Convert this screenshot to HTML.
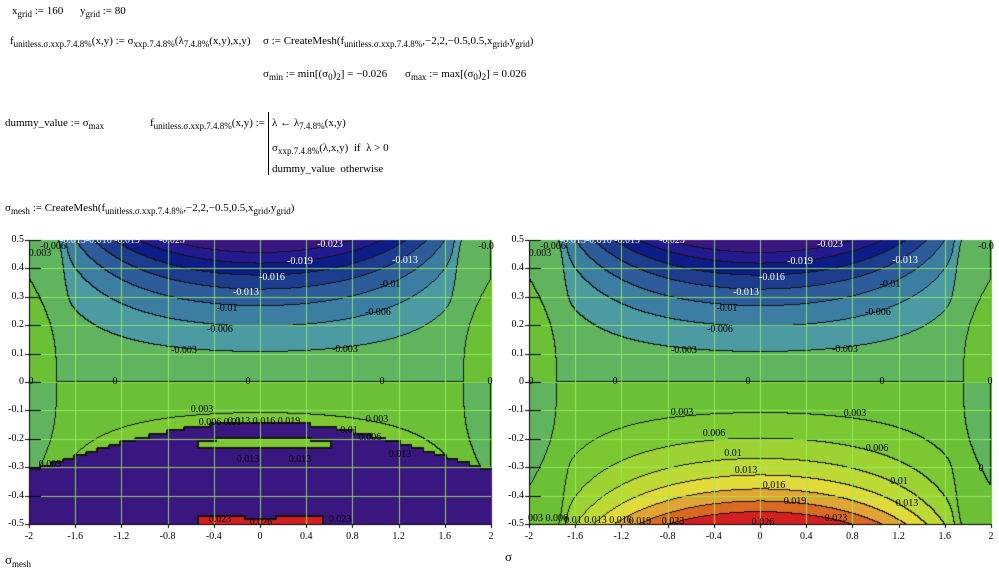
<!DOCTYPE html>
<html><head><meta charset="utf-8"><style>
body{margin:0;background:#fff;width:999px;height:575px;overflow:hidden;position:relative;font-family:"Liberation Serif",serif;font-size:11px;color:#000}
.t{position:absolute;white-space:nowrap;line-height:14px}
sub{font-size:9px;vertical-align:-3px;line-height:0}
canvas{position:absolute;top:0;left:0}
.l{position:absolute;font-size:10px;transform:translate(-50%,-50%);white-space:nowrap;line-height:10px}
.w{color:#fff}
.tk{position:absolute;font-size:10px;line-height:10px;white-space:nowrap}
.bar{position:absolute;left:268px;top:112px;width:1px;height:63px;background:#000}
</style></head><body>
<div class="t" style="left:12px;top:4px">x<sub>grid</sub> := 160</div>
<div class="t" style="left:80px;top:4px">y<sub>grid</sub> := 80</div>
<div class="t" style="left:10px;top:34px">f<sub>unitless.σ.xxp.7.4.8%</sub>(x,y) := σ<sub>xxp.7.4.8%</sub>(λ<sub>7.4.8%</sub>(x,y),x,y)</div>
<div class="t" style="left:263px;top:34px">σ := CreateMesh(f<sub>unitless.σ.xxp.7.4.8%</sub>,−2,2,−0.5,0.5,x<sub>grid</sub>,y<sub>grid</sub>)</div>
<div class="t" style="left:263px;top:67px">σ<sub>min</sub> := min[(σ<sub>0</sub>)<sub>2</sub>] = −0.026</div>
<div class="t" style="left:405px;top:67px">σ<sub>max</sub> := max[(σ<sub>0</sub>)<sub>2</sub>] = 0.026</div>
<div class="t" style="left:5px;top:116px">dummy_value := σ<sub>max</sub></div>
<div class="t" style="left:150px;top:116px">f<sub>unitless.σ.xxp.7.4.8%</sub>(x,y) :=</div>
<div class="bar"></div>
<div class="t" style="left:272px;top:116px">λ ← λ<sub>7.4.8%</sub>(x,y)</div>
<div class="t" style="left:272px;top:141px">σ<sub>xxp.7.4.8%</sub>(λ,x,y) &nbsp;if &nbsp;λ &gt; 0</div>
<div class="t" style="left:272px;top:162px">dummy_value &nbsp;otherwise</div>
<div class="t" style="left:5px;top:201px">σ<sub>mesh</sub> := CreateMesh(f<sub>unitless.σ.xxp.7.4.8%</sub>,−2,2,−0.5,0.5,x<sub>grid</sub>,y<sub>grid</sub>)</div>
<canvas id="c" width="999" height="575"></canvas>
<div class="t" style="left:5px;top:553px;font-size:13px">σ<sub>mesh</sub></div>
<div class="t" style="left:505px;top:550px;font-size:13px">σ</div>
<div id="lab"></div>
<script>
var cv=document.getElementById('c'),ctx=cv.getContext('2d');
var neg=['#3a1680','#221a8e','#0e1c88','#1e3c8e','#2e5c9a','#3c7ea2','#4c9aa2','#60b45e'];
var pos=['#6cc036','#7cc832','#9cd232','#bed834','#e2da38','#e2a432','#da6a22','#d42020'];
var cols=neg.concat(pos).map(function(h){return [parseInt(h.substr(1,2),16),parseInt(h.substr(3,2),16),parseInt(h.substr(5,2),16)]});
function sig(x,y){var ax=Math.abs(x);
 var s=1/(1+Math.exp(-(ax-1.7)/0.02));
 var R=s*(0.03+0.05*Math.max(0,ax-1.75));
 return -y*(1-x*x/4)*(0.029+0.1*y*y-R);}
function band(s){var b=Math.floor((s+0.026)/0.00325);if(b<0)b=0;if(b>15)b=15;return b;}
var W=462,H=284,Y0=240;
function mask(x,y){
 var qx=Math.round(x/0.025)*0.025,qy=Math.round(y/0.0125)*0.0125;
 var yb=-0.139-0.055*qx*qx+0.003*qx*qx*qx*qx;
 if(qy<yb){
  if(qy<-0.465&&qx>-0.55&&qx<0.55){ if(Math.abs(qx)<0.15&&qy>-0.478)return 0; return 15;}
  if(qy<-0.195&&qy>-0.23&&qx>-0.4&&qx<0.45)return 9;
  if(qy<-0.21&&qy>-0.235&&qx>-0.55&&qx<0.62)return 9;
  return 0;}
 return -1;}
function draw(ox,left){
 var img=ctx.createImageData(W+1,H+1),d=img.data;
 var B=[];
 for(var j=0;j<=H;j++){for(var i=0;i<=W;i++){var x=-2+4*i/W,y=0.5-j/H;var b=band(sig(x,y));var m=left?mask(x,y):-1;B.push(m>=0?m+100:b);}}
 for(var j=0;j<=H;j++){for(var i=0;i<=W;i++){var k=j*(W+1)+i,b=B[k],c;
  var bb=b>=100?b-100:b;c=cols[bb];var blk=false;
  var r=(i<W)?B[k+1]:b,dn=(j<H)?B[k+W+1]:b;
  if(b<100&&r<100&&dn<100){if(r!=b||dn!=b)blk=true;}
  else{
   for(var dj=-1;dj<=1&&!blk;dj++)for(var di=-1;di<=1;di++){var ii=i+di,jj=j+dj;if(ii<0||jj<0||ii>W||jj>H)continue;var o=B[jj*(W+1)+ii];if((o>=100)!=(b>=100)||(o>=100&&o!=b)){blk=true;break;}}}
  var p=k*4;if(blk){d[p]=d[p+1]=d[p+2]=20;}else{d[p]=c[0];d[p+1]=c[1];d[p+2]=c[2];}d[p+3]=255;}}
 ctx.putImageData(img,ox,Y0);
 ctx.strokeStyle='rgba(150,240,90,0.85)';ctx.lineWidth=1;
 for(var t=1;t<10;t++){var X=Math.round(ox+t*W/10)+0.5;ctx.beginPath();ctx.moveTo(X,Y0);ctx.lineTo(X,Y0+H);ctx.stroke();}
 for(var t=1;t<10;t++){var Y=Math.round(Y0+t*H/10)+0.5;ctx.beginPath();ctx.moveTo(ox,Y);ctx.lineTo(ox+W,Y);ctx.stroke();}
 ctx.strokeStyle='#000';ctx.beginPath();ctx.moveTo(ox,Y0+H+0.5);ctx.lineTo(ox+W,Y0+H+0.5);ctx.stroke();
 ctx.beginPath();ctx.moveTo(ox+0.5,Y0);ctx.lineTo(ox+0.5,Y0+H);ctx.stroke();
 for(var t=0;t<=10;t++){var Y=Math.round(Y0+t*H/10)+0.5;ctx.beginPath();ctx.moveTo(ox-4,Y);ctx.lineTo(ox+12,Y);ctx.stroke();}
 for(var t=0;t<=10;t++){var X=Math.round(ox+t*W/10)+0.5;ctx.beginPath();ctx.moveTo(X,Y0+H);ctx.lineTo(X,Y0+H+4);ctx.stroke();}
}
draw(29,true);draw(529,false);
var h='';
var yl=['0.5','0.4','0.3','0.2','0.1','0','-0.1','-0.2','-0.3','-0.4','-0.5'];
var xl=['-2','-1.6','-1.2','-0.8','-0.4','0','0.4','0.8','1.2','1.6','2'];
[29,529].forEach(function(ox){
 for(var t=0;t<=10;t++){h+='<div class="tk" style="right:'+(999-ox+5)+'px;top:'+(Y0+t*H/10-5)+'px">'+yl[t]+'</div>';
  h+='<div class="l" style="left:'+(ox+t*W/10)+'px;top:537px">'+xl[t]+'</div>';}
});
var tl=[['-0.023',830,245,1],['-0.019',800,262,1],['-0.013',905,261,1],['-0.016',772,278,1],['-0.01',890,285,0],['-0.013',746,293,1],['-0.01',727,309,0],['-0.006',878,313,0],['-0.006',720,330,0],['-0.003',684,351,0],['-0.003',845,350,0],['0',531,382,0],['0',615,382,0],['0',748,382,0],['0',882,382,0],['0',990,382,0],['-0.006',553,247,0],['0.003',540,254,0],['-0.0',986,247,0],['-0.015-0.016 -0.019',600,241,1],['-0.023',672,241,1]];
tl.forEach(function(a){[0,-500].forEach(function(o){h+='<div class="l'+(a[3]?' w':'')+'" style="left:'+(a[1]+o)+'px;top:'+a[2]+'px">'+a[0]+'</div>';});});
var rb=[['0.003',682,413],['0.003',855,414],['0.006',714,434],['0.006',877,449],['0.01',733,454],['0.013',746,471],['0.01',899,482],['0.016',774,486],['0.019',795,502],['0.013',907,504],['0.023',836,519],['0.026',763,523],['0',981,469],['003 0.006',548,519],['0.01 0.013 0.016',598,521],['0.019',640,522],['0.023',673,522]];
rb.forEach(function(a){h+='<div class="l" style="left:'+a[1]+'px;top:'+a[2]+'px">'+a[0]+'</div>';});
var lb=[['0.003',202,410],['0.003',377,420],['0.006 0.01',220,423],['0.013 0.016 0.019',264,422],['0.01',349,431],['0.006',370,438],['0.013',248,460],['0.013',300,460],['0.003',50,465],['0.013',400,455],['0.026',261,523],['0.023',220,520],['0.023',340,520]];
lb.forEach(function(a){h+='<div class="l" style="left:'+a[1]+'px;top:'+a[2]+'px">'+a[0]+'</div>';});
document.getElementById('lab').innerHTML=h;
</script>
</body></html>
